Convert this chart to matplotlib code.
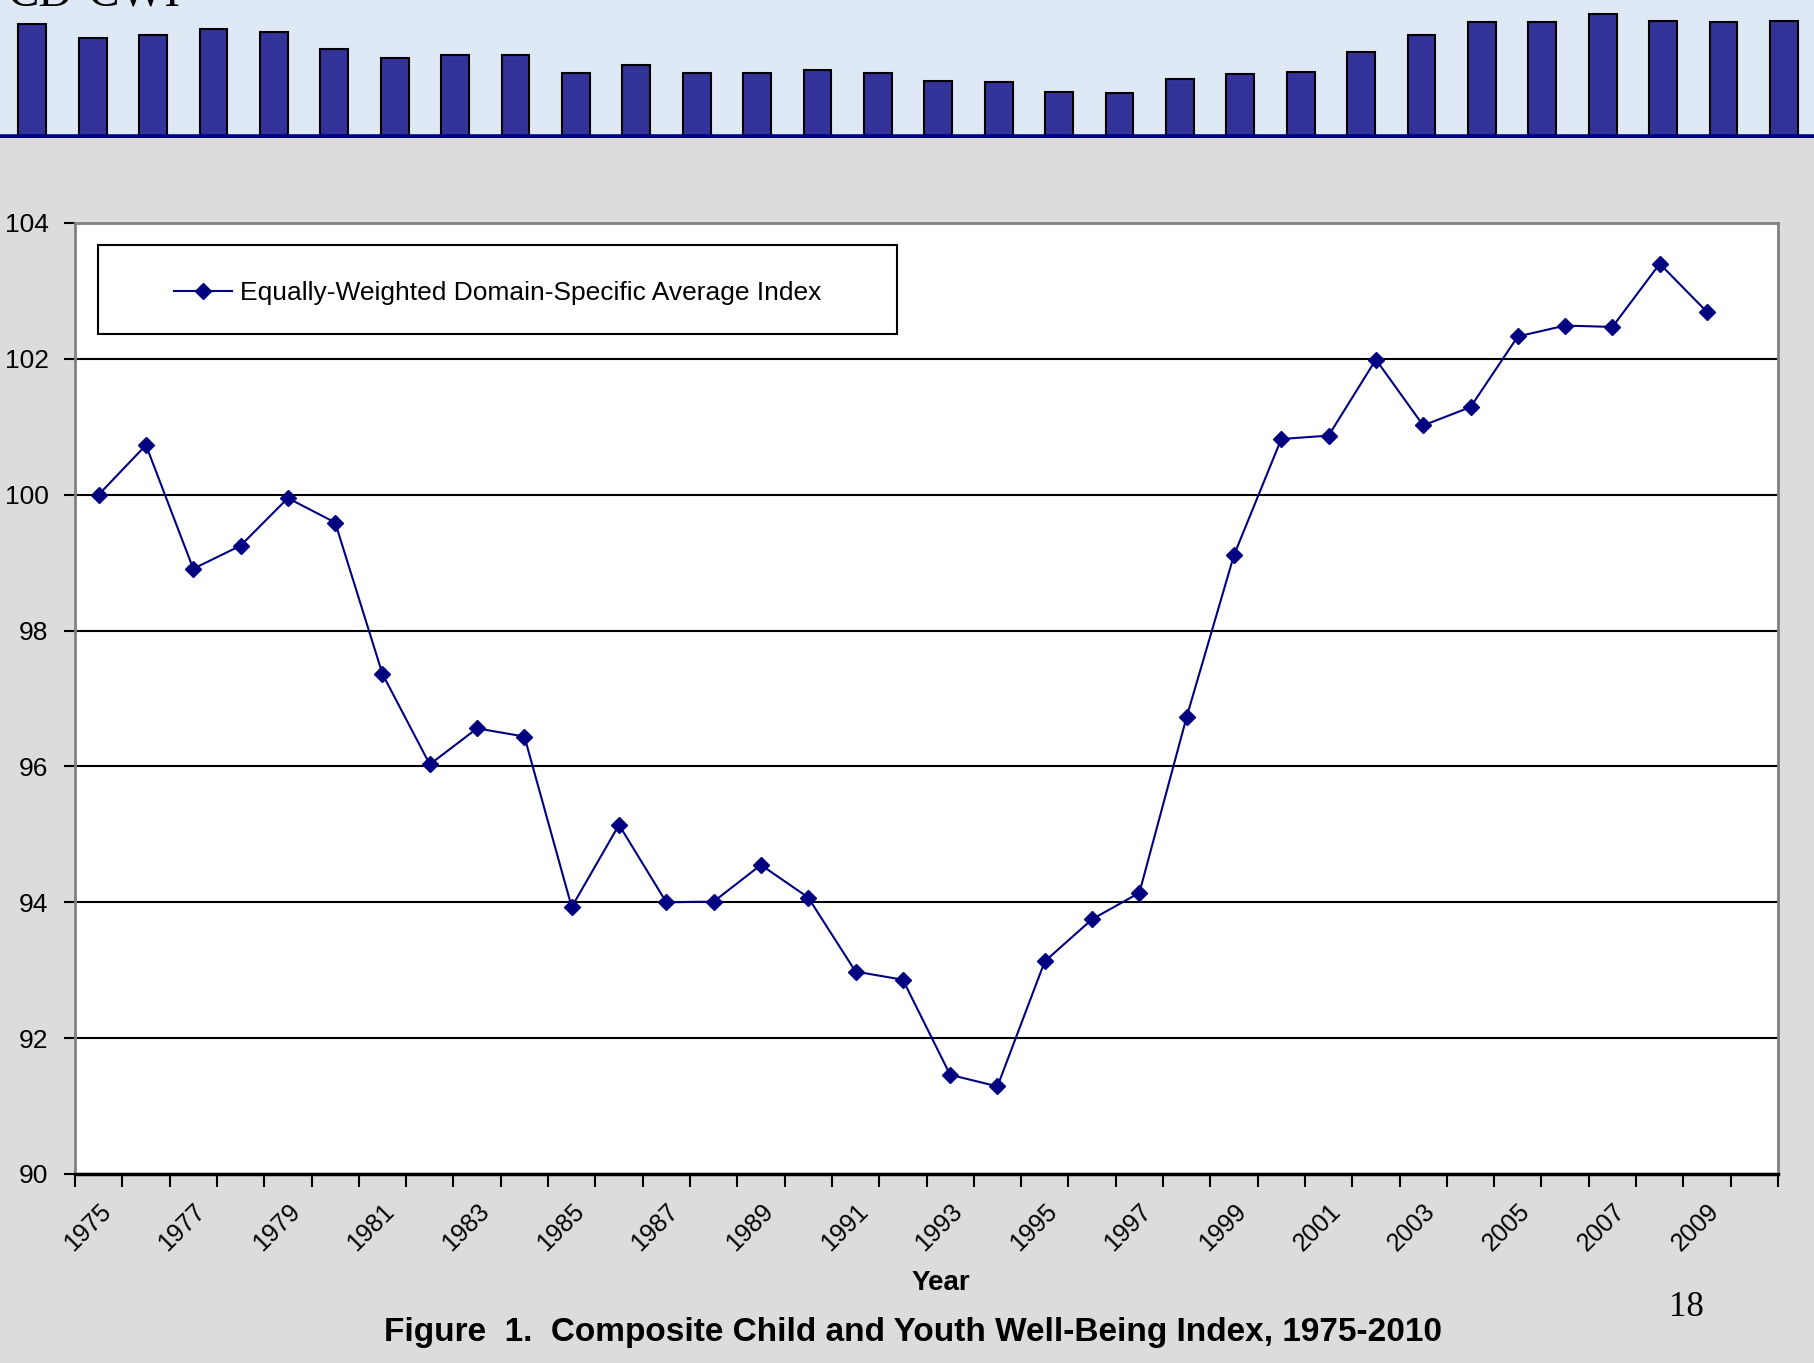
import matplotlib
matplotlib.use('Agg')
from matplotlib import pyplot as plt
from matplotlib.patches import Rectangle

plt.rcParams['font.family'] = ['Liberation Sans', 'DejaVu Sans']

# composite index, 1975-2009 (2010 slot on the axis stays empty)
years = list(range(1975, 2011))
index_values = [100.00, 100.73, 98.91, 99.25, 99.95, 99.59, 97.36, 96.03, 96.56, 96.44,
                93.93, 95.14, 94.00, 94.01, 94.55, 94.07, 92.98, 92.86, 91.46, 91.29,
                93.13, 93.75, 94.14, 96.73, 99.11, 100.82, 100.87, 101.99, 101.02, 101.29,
                102.33, 102.49, 102.47, 103.40, 102.69]
series_label = 'Equally-Weighted Domain-Specific Average Index'
y_ticks = [90, 92, 94, 96, 98, 100, 102, 104]

# decorative slide banner bars
banner_heights = [98, 86, 89, 94, 91, 77, 69, 72, 72, 56, 63, 56, 56, 59, 56,
                  49, 48, 40, 39, 51, 55, 57, 74, 89, 100, 100, 107, 101, 100, 101]

W, H = 1814, 1363
bg = '#dcdcdc'
navy = '#000080'

fig = plt.figure(figsize=(W / 100, H / 100), dpi=100, facecolor=bg)

# banner
bax = fig.add_axes([0, (H - 138) / H, 1, 138 / H])
bax.set_facecolor('#dfe9f5')
bax.bar(range(len(banner_heights)), banner_heights, width=0.46,
        color='#333399', edgecolor='black', linewidth=1.5)
bax.set_xlim(-0.536, 29.5)
bax.set_ylim(0, 119)
bax.axhline(1.2, color=navy, lw=4)
bax.set_xticks([])
bax.set_yticks([])
for s in bax.spines.values():
    s.set_visible(False)
fig.text(0.004, 1 - 6 / H, 'CD-CWI', family='Liberation Serif', fontsize=34,
         va='baseline', ha='left', color='black')

# main chart
x0, x1, yt, yb = 75, 1778, 223, 1174
ax = fig.add_axes([x0 / W, (H - yb) / H, (x1 - x0) / W, (yb - yt) / H])
ax.set_facecolor('white')
xs = list(range(len(index_values)))
ax.plot(xs, index_values, color=navy, lw=1.5, marker='D', markersize=8,
        markerfacecolor=navy, markeredgecolor=navy, label=series_label, zorder=3)

ax.set_xlim(-0.5, len(years) - 0.5)
ax.set_ylim(90, 104)
ax.set_yticks(y_ticks)
ax.set_yticklabels([str(v) for v in y_ticks], fontsize=19)
ax.yaxis.grid(True, color='black', lw=1.5)
ax.set_axisbelow(True)

ax.set_xticks([i - 0.5 for i in range(len(years) + 1)])
ax.set_xticklabels([])
ax.set_xticks(range(0, len(years), 2), minor=True)
ax.set_xticklabels([str(y) for y in years[::2]], minor=True, rotation=45,
                   ha='right', rotation_mode='anchor', fontsize=18)
ax.tick_params(axis='x', which='major', length=9, width=1.5, direction='out')
ax.tick_params(axis='x', which='minor', length=0, pad=18)
ax.tick_params(axis='y', length=8, width=1.5, direction='out', pad=11)

ax.spines['bottom'].set_color('black')
ax.spines['bottom'].set_linewidth(2.5)
for side in ['top', 'right', 'left']:
    ax.spines[side].set_color('#808080')
    ax.spines[side].set_linewidth(2)

# legend box
lx, ly = (98 - x0) / (x1 - x0), 1 - (334 - yt) / (yb - yt)
lw_, lh = (897 - 98) / (x1 - x0), (334 - 245) / (yb - yt)
ax.add_patch(Rectangle((lx, ly), lw_, lh, transform=ax.transAxes, facecolor='white',
                       edgecolor='black', lw=1.5, zorder=4))
leg = ax.legend(loc='center', bbox_to_anchor=(lx, ly - 0.004, lw_, lh), fontsize=19,
                frameon=False, handlelength=2.2, handletextpad=0.3, borderaxespad=0)
leg.set_zorder(5)

fig.text(941 / W, 1 - 1283 / H, 'Year', fontsize=20, fontweight='bold', ha='center', va='center')
fig.text(913 / W, 1 - 1332 / H, 'Figure  1.  Composite Child and Youth Well-Being Index, 1975-2010',
         fontsize=24, fontweight='bold', ha='center', va='center')
fig.text(1686 / W, 1 - 1307 / H, '18', family='Liberation Serif', fontsize=25,
         ha='center', va='center')

fig.savefig('out.png', dpi=100, facecolor=bg)
